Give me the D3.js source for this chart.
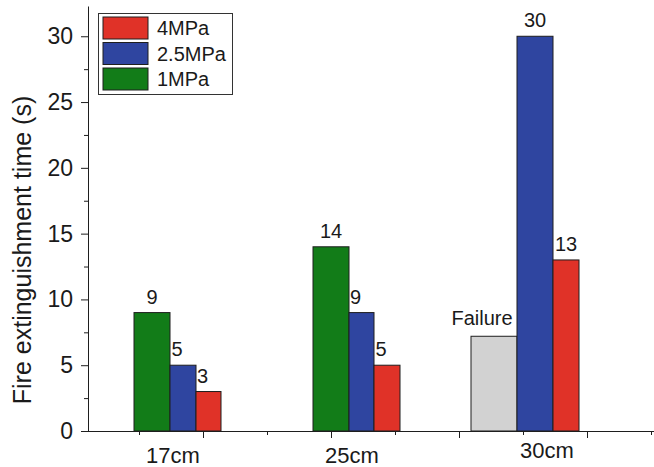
<!DOCTYPE html>
<html>
<head>
<meta charset="utf-8">
<script src="https://cdn.jsdelivr.net/npm/d3@7/dist/d3.min.js"></script>
<style>
  html, body { margin: 0; padding: 0; background: #fff; }
  svg { display: block; }
  text { font-family: "Liberation Sans", Arial, Helvetica, sans-serif; fill: #1a1a1a; }
</style>
</head>
<body>
<svg id="chart" width="654" height="467"></svg>
<script>
// Nozzle distance categories
const categories = ["17cm", "25cm", "30cm"];

// Fire extinguishment time (s) per pressure
const values1MPa   = [9, 14, 7.2];          // 30cm run failed to extinguish
const labels1MPa   = ["9", "14", "Failure"];
const values2_5MPa = [5, 9, 30];
const values4MPa   = [3, 5, 13];

const seriesNames  = ["1MPa", "2.5MPa", "4MPa"];
const legendOrder  = ["4MPa", "2.5MPa", "1MPa"];
const yTickValues  = [0, 5, 10, 15, 20, 25, 30];

// ---- layout & style ----
const W = 654, H = 467;
const plot = { left: 88, right: 654, top: 6, bottom: 431 };
const colors = { "1MPa": "#127c18", "2.5MPa": "#2f45a0", "4MPa": "#e03228", failure: "#d2d2d2" };
const stroke = "#1e1e1e";
// bar widths inside each group (1MPa, 2.5MPa, 4MPa), groups laid out right-aligned
const barWidths = { "17cm": [36, 26, 25], "25cm": [36, 25, 26], "30cm": [46, 36, 26] };
const labelDx   = { "17cm": [0, -6, -6], "25cm": [0, -6, -6], "30cm": [-12, 0, 0] };
const catDx = [0, 0, 16], catDy = [0, 0, -5];

const svg = d3.select("#chart");

const y = d3.scaleLinear().domain([0, 32.3]).range([plot.bottom, plot.top]);
// right edge of each bar group
const groupRight = d3.scalePoint().domain(categories).range([221, 579]);
// decorative x tick positions
const xt = d3.scaleLinear().domain([0, 1]).range([75, 203]);

// ---- bars ----
const bars = [];
categories.forEach((cat, i) => {
  const vals = [values1MPa[i], values2_5MPa[i], values4MPa[i]];
  const labs = [labels1MPa[i], String(values2_5MPa[i]), String(values4MPa[i])];
  const widths = barWidths[cat];
  let left = groupRight(cat) - d3.sum(widths);
  vals.forEach((v, j) => {
    const series = seriesNames[j];
    const failed = labs[j] === "Failure";
    bars.push({ cat, series, value: v, label: labs[j], x: left, w: widths[j],
                fill: failed ? colors.failure : colors[series], dx: labelDx[cat][j] });
    left += widths[j];
  });
});

svg.append("g").selectAll("rect").data(bars).join("rect")
  .attr("x", d => d.x)
  .attr("y", d => y(d.value))
  .attr("width", d => d.w)
  .attr("height", d => y(0) - y(d.value))
  .attr("fill", d => d.fill)
  .attr("stroke", stroke)
  .attr("stroke-width", 1);

svg.append("g").selectAll("text").data(bars).join("text")
  .attr("x", d => d.x + d.w / 2 + d.dx)
  .attr("y", d => y(d.value) - (d.label === "Failure" ? 11 : 9))
  .attr("text-anchor", "middle")
  .attr("font-size", 20)
  .text(d => d.label);

// ---- y axis ----
const yMinor = d3.range(2.5, 32.3, 5);
svg.append("g").attr("transform", `translate(${plot.left},0)`)
  .call(d3.axisLeft(y).tickValues(yMinor).tickSize(4).tickFormat(""))
  .call(g => g.select(".domain").remove())
  .selectAll("line").attr("stroke", stroke);
const yAxis = svg.append("g").attr("transform", `translate(${plot.left},0)`)
  .call(d3.axisLeft(y).tickValues(yTickValues).tickSize(7).tickSizeOuter(0).tickPadding(8));
yAxis.selectAll("text").attr("font-size", 23).attr("font-family", "Liberation Sans, Arial, sans-serif").attr("fill", "#1a1a1a");
yAxis.selectAll("line, path").attr("stroke", stroke);

// ---- x axis ----
const xMajor = [1, 2, 3, 4];
const xMinor = [0.5, 1.5, 2.5, 3.5, 4.5];
svg.append("g").attr("transform", `translate(0,${plot.bottom})`)
  .call(d3.axisBottom(xt).tickValues(xMinor).tickSize(4).tickFormat(""))
  .call(g => g.select(".domain").remove())
  .selectAll("line").attr("stroke", stroke);
svg.append("g").attr("transform", `translate(0,${plot.bottom})`)
  .call(d3.axisBottom(xt).tickValues(xMajor).tickSize(7).tickFormat(""))
  .call(g => g.select(".domain").remove())
  .selectAll("line").attr("stroke", stroke);
svg.append("line")
  .attr("x1", plot.left).attr("x2", plot.right)
  .attr("y1", plot.bottom + 0.5).attr("y2", plot.bottom + 0.5)
  .attr("stroke", stroke);

svg.append("g").selectAll("text").data(categories).join("text")
  .attr("x", (d, i) => groupRight(d) - 48 + catDx[i])
  .attr("y", (d, i) => 463 + catDy[i])
  .attr("text-anchor", "middle")
  .attr("font-size", 22)
  .text(d => d);

// ---- y title ----
svg.append("text")
  .attr("transform", `translate(31,${250}) rotate(-90)`)
  .attr("text-anchor", "middle")
  .attr("font-size", 25)
  .text("Fire extinguishment time (s)");

// ---- legend ----
const legend = svg.append("g");
legend.append("rect")
  .attr("x", 98.5).attr("y", 13.5).attr("width", 134).attr("height", 81)
  .attr("fill", "#fff").attr("stroke", "#333").attr("stroke-width", 1);
const li = legend.selectAll("g.item").data(legendOrder).join("g")
  .attr("class", "item")
  .attr("transform", (d, i) => `translate(103,${17 + i * 25.5})`);
li.append("rect")
  .attr("width", 45).attr("height", 22)
  .attr("fill", d => colors[d]).attr("stroke", stroke);
li.append("text")
  .attr("x", 54).attr("y", 18)
  .attr("font-size", 20)
  .text(d => d);
</script>
</body>
</html>
